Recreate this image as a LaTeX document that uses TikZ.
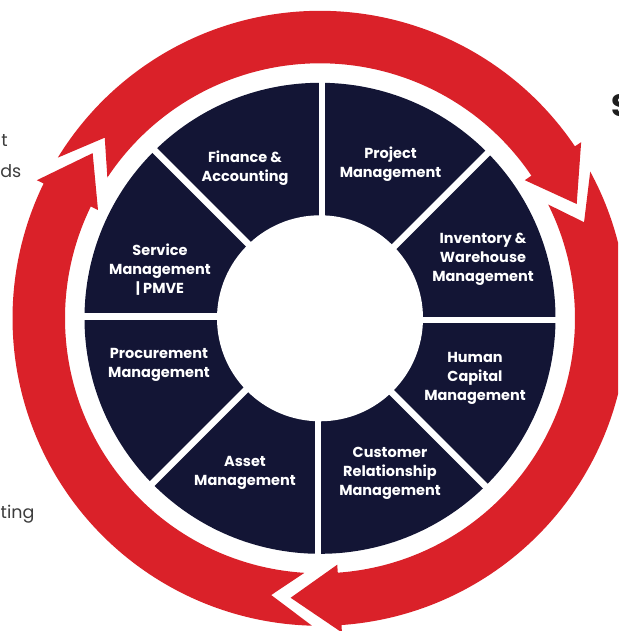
\documentclass[tikz,border=0pt]{standalone}
\usepackage{fontspec}
\setmainfont{Poppins}
\definecolor{navy}{HTML}{131535}
\definecolor{ared}{HTML}{DA2129}
\definecolor{txtgray}{HTML}{3C3C3C}
\definecolor{darktxt}{HTML}{1E1E1E}
\newcommand\ringarrow[2]{% #1 = tail junction angle, #2 = head junction angle
  \fill[ared] ({#1-5.5}:307.5pt) arc[start angle={#1-5.5}, end angle={#2}, radius=307.5pt]
    -- ({#2}:315pt) -- ({#2-10}:281pt) -- ({#2}:247pt) -- ({#2}:255pt)
    arc[start angle={#2}, end angle={#1-7.5}, radius=255pt]
    -- ({#1-14}:281pt) -- cycle;}
\begin{document}
\begin{tikzpicture}[x=1pt,y=1pt,
  segtext/.style={text=white, font=\bfseries\fontsize{14.5}{19}\selectfont, align=center, inner sep=0pt},
  sidetext/.style={text=txtgray, font=\fontsize{17.5}{22}\selectfont, inner sep=0pt},
  spokeline/.style={draw=white, line width=6.5pt}]
\useasboundingbox (-320,-312.7) rectangle (298,318.3);
\clip (-320,-312.7) rectangle (298,318.3);
% red circular arrows
\ringarrow{154}{34}
\ringarrow{34}{-86}
\ringarrow{-86}{-206}
% wheel
\fill[navy] (0,0) circle[radius=235.5pt];
\foreach \a in {0,45,...,315}
  \draw[spokeline, shift={({\a-90}:1.8pt)}] (\a:100pt) -- (\a:240pt);
\fill[white] (0,0) circle[radius=103pt];
% segment labels
\node[segtext] (fin) at (-75,150) {Finance \&\\Accounting};
\node[segtext] (proj) at (70.5,154) {Project\\Management};
\node[segtext] (inv) at (163,59) {Inventory \&\\Warehouse\\Management};
\node[segtext] (hcm) at (155,-60) {Human\\Capital\\Management};
\node[segtext] (crm) at (70,-155) {Customer\\Relationship\\Management};
\node[segtext] (asset) at (-75,-155) {Asset\\Management};
\node[segtext] (proc) at (-161,-47) {Procurement\\Management};
\node[segtext] (serv) at (-160,49) {Service\\Management\\| PMVE};
% cut-off side texts
\node[sidetext, anchor=base east] (t1) at (-312,171.3) {t};
\node[sidetext, anchor=base east] (t2) at (-298.5,140.3) {ds};
\node[sidetext, anchor=base west] (t3) at (-319.5,-199.7) {ting};
\node[text=darktxt, font=\bfseries\fontsize{31}{31}\selectfont, inner sep=0pt, anchor=base west] (s1) at (291,201.3) {S};
\end{tikzpicture}
\end{document}
